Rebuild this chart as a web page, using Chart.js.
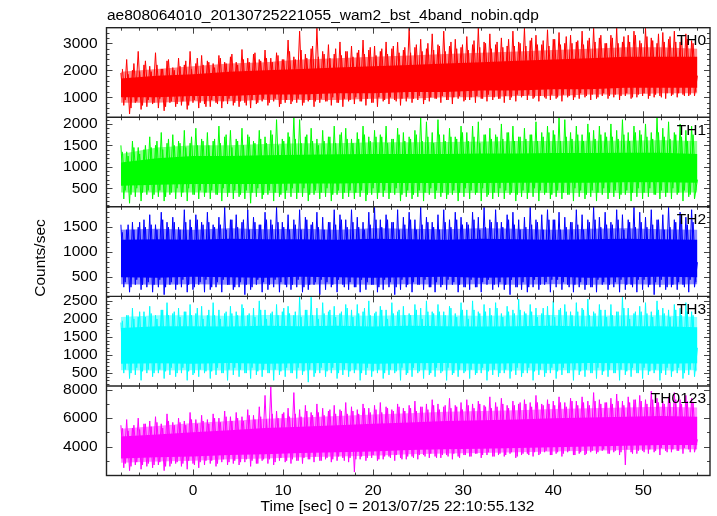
<!DOCTYPE html>
<html>
<head>
<meta charset="utf-8">
<script src="https://cdn.jsdelivr.net/npm/chart.js@4.4.1/dist/chart.umd.min.js"></script>
<style>
  html, body { margin: 0; padding: 0; background: #fff; }
  #wrap { width: 717px; height: 516px; }
</style>
</head>
<body>
<div id="wrap"><canvas id="lcChart" width="717" height="516"></canvas></div>
<script>
// light curve, 5 energy bands; dense noise read as a solid core, a dense fringe and
// two interleaved runs of alternating peak / trough values for the spikes
const zigStart = -8, zigStep = 0.32;      // big spikes
const zig2Start = -7.84, zig2Step = 0.32; // smaller spikes in between
const bandStart = -8, bandStep = 4;       // core and fringe

const xTickLabels = [0, 10, 20, 30, 40, 50];

// TH0 (red)
const th0Ticks = [1000, 2000, 3000];
const th0CoreHi = [1700, 1800, 1850, 1950, 2000, 2050, 2100, 2150, 2200, 2250, 2300, 2350, 2400, 2450, 2500, 2500, 2500];
const th0CoreLo = [1000, 1000, 1050, 1050, 1100, 1100, 1150, 1150, 1200, 1200, 1250, 1250, 1300, 1300, 1350, 1350, 1350];
const th0FringeHi = [1950, 2050, 2150, 2250, 2300, 2400, 2450, 2500, 2550, 2600, 2650, 2700, 2750, 2800, 2850, 2850, 2800];
const th0FringeLo = [800, 800, 850, 850, 900, 900, 900, 950, 950, 1000, 1000, 1050, 1050, 1100, 1100, 1150, 1150];
const th0Zig = [
  1900, 700, 2400, 380, 2000, 800, 2700, 550, 2200, 650,
  2150, 750, 2650, 600, 2050, 500, 2350, 800, 2100, 650,
  2450, 700, 2200, 550, 2700, 800, 2250, 600, 2550, 750,
  2350, 650, 2250, 800, 2550, 600, 2300, 750, 2500, 700,
  2300, 650, 2770, 800, 2450, 600, 2600, 750, 2400, 850,
  2750, 700, 2450, 850, 2650, 650, 2400, 800, 3120, 750,
  2500, 800, 3450, 700, 2600, 850, 2800, 650, 3560, 800,
  2700, 850, 2950, 700, 2600, 800, 3050, 650, 2700, 850,
  2900, 750, 2650, 850, 3120, 700, 2750, 800, 2900, 650,
  2700, 850, 3050, 750, 2800, 900, 3040, 700, 2750, 850,
  3560, 800, 2850, 900, 3150, 750, 2800, 850, 3350, 950,
  2950, 800, 3450, 900, 2900, 750, 3150, 950, 2850, 850,
  3250, 900, 2950, 800, 3560, 950, 3050, 850, 3350, 900,
  2950, 950, 3200, 800, 2900, 900, 3450, 850, 3050, 1000,
  3560, 900, 3100, 950, 3300, 850, 2950, 1000, 3500, 900,
  3150, 950, 3400, 850, 3000, 1000, 3300, 900, 3050, 950,
  3450, 1000, 3100, 900, 3560, 950, 3200, 1050, 3000, 950,
  3300, 1000, 3560, 900, 3050, 1050, 3300, 950, 3450, 1000,
  3100, 1050, 3560, 950, 3200, 1000, 3000, 1050, 3400, 950,
  3150, 1050, 3450, 1000, 3050, 1100, 3350, 1050, 3100, 1050,
  1800
];
const th0Zig2 = [
  2050, 900, 1850, 600, 2250, 850, 1950, 700, 2350, 900,
  1950, 800, 2200, 950, 2050, 650, 2400, 850, 2000, 750,
  2150, 850, 2350, 700, 2050, 900, 2450, 800, 2200, 650,
  2300, 900, 2100, 750, 2450, 850, 2250, 950, 2600, 800,
  2200, 850, 2400, 700, 2300, 900, 2650, 800, 2350, 950,
  2450, 800, 2300, 950, 2550, 750, 2400, 900, 2700, 850,
  2400, 950, 2750, 800, 2450, 900, 2900, 850, 2500, 950,
  2600, 850, 2450, 1000, 2800, 800, 2550, 950, 2700, 900,
  2500, 1000, 2750, 850, 2600, 950, 2850, 800, 2550, 1000,
  2800, 900, 2600, 1000, 2900, 850, 2650, 950, 2850, 1000,
  2650, 950, 2950, 1050, 2700, 900, 3000, 1000, 2750, 950,
  2900, 1050, 2700, 900, 3050, 1000, 2800, 1050, 2950, 900,
  2750, 1000, 3100, 1050, 2850, 950, 3000, 1100, 2800, 1000,
  3050, 950, 2850, 1050, 3150, 1000, 2900, 1100, 3000, 1050,
  2900, 1100, 3200, 1000, 2950, 1050, 3100, 950, 2900, 1100,
  3150, 1000, 2950, 1100, 3250, 1050, 3000, 1000, 3100, 1150,
  2950, 1050, 3200, 1100, 3050, 1000, 3300, 1150, 3000, 1050,
  3200, 1100, 3000, 1050, 3250, 1150, 3050, 1000, 3300, 1100,
  3000, 1150, 3250, 1050, 3100, 1100, 3350, 1000, 3050, 1150,
  3250, 1100, 3050, 1150, 3300, 1050, 3150, 1100, 3000, 1200
];

// TH1 (green)
const th1Ticks = [500, 1000, 1500, 2000];
const th1CoreHi = [1100, 1200, 1250, 1250, 1270, 1280, 1290, 1300, 1300, 1300, 1310, 1310, 1320, 1320, 1330, 1330, 1300];
const th1CoreLo = [560, 580, 600, 600, 600, 610, 610, 620, 620, 620, 620, 630, 630, 630, 640, 640, 630];
const th1FringeHi = [1300, 1450, 1500, 1500, 1530, 1550, 1550, 1570, 1570, 1580, 1590, 1600, 1600, 1610, 1610, 1620, 1600];
const th1FringeLo = [400, 400, 400, 390, 390, 390, 390, 390, 390, 390, 390, 390, 390, 390, 390, 390, 400];
const th1Zig = [
  1500, 250, 1350, 150, 1600, 300, 1450, 200, 1400, 350,
  1700, 250, 1500, 300, 1800, 200, 1550, 350, 1750, 250,
  1600, 300, 1850, 200, 1550, 350, 1900, 250, 1650, 300,
  1800, 250, 1600, 350, 1950, 200, 1700, 300, 1850, 250,
  1650, 300, 1900, 250, 1750, 150, 1600, 300, 1850, 250,
  1700, 350, 1850, 200, 2100, 300, 1650, 250, 1800, 300,
  2150, 250, 2100, 300, 1700, 200, 1900, 350, 1650, 250,
  1850, 300, 1700, 200, 1950, 350, 1750, 250, 1900, 300,
  1650, 250, 1800, 300, 1950, 200, 1700, 350, 1850, 250,
  1750, 300, 1950, 250, 1650, 350, 1900, 200, 1800, 300,
  1700, 250, 1850, 300, 2150, 200, 2050, 350, 1800, 250,
  2100, 300, 1750, 250, 1900, 350, 1700, 200, 1950, 300,
  1800, 250, 1950, 350, 2050, 200, 1750, 300, 1900, 250,
  1750, 300, 2000, 250, 1800, 350, 1950, 200, 1700, 300,
  1900, 250, 1750, 300, 2050, 200, 1800, 350, 1950, 250,
  1850, 300, 2150, 250, 2100, 350, 1800, 200, 1950, 300,
  1750, 250, 2000, 300, 1850, 200, 1950, 350, 1800, 250,
  2000, 300, 1850, 250, 2100, 350, 1800, 200, 1950, 300,
  1850, 250, 2000, 300, 1800, 350, 2150, 250, 1900, 300,
  2050, 250, 1800, 350, 2000, 200, 1850, 300, 1950, 250,
  700
];
const th1Zig2 = [
  1350, 450, 1250, 350, 1450, 500, 1300, 400, 1500, 450,
  1450, 350, 1600, 450, 1400, 300, 1650, 400, 1500, 500,
  1550, 400, 1450, 500, 1700, 350, 1500, 450, 1600, 400,
  1500, 450, 1650, 350, 1550, 500, 1750, 400, 1450, 450,
  1600, 350, 1500, 450, 1700, 400, 1550, 500, 1650, 350,
  1550, 450, 1750, 400, 1500, 350, 1600, 450, 1700, 500,
  1650, 400, 1550, 500, 1750, 350, 1600, 450, 1500, 400,
  1600, 500, 1700, 350, 1550, 450, 1800, 400, 1650, 450,
  1550, 400, 1650, 450, 1750, 350, 1600, 500, 1700, 400,
  1700, 450, 1550, 400, 1650, 500, 1750, 350, 1600, 450,
  1650, 350, 1750, 450, 1600, 400, 1700, 500, 1550, 450,
  1750, 400, 1600, 350, 1700, 450, 1650, 400, 1800, 500,
  1600, 450, 1700, 400, 1550, 500, 1750, 350, 1650, 400,
  1700, 500, 1650, 450, 1800, 400, 1600, 350, 1700, 450,
  1650, 400, 1750, 500, 1600, 450, 1700, 400, 1800, 350,
  1750, 450, 1600, 400, 1700, 350, 1650, 500, 1750, 450,
  1600, 350, 1800, 450, 1650, 400, 1750, 500, 1700, 400,
  1700, 450, 1650, 350, 1750, 450, 1600, 400, 1800, 500,
  1750, 400, 1700, 500, 1650, 350, 1800, 450, 1700, 400,
  1650, 500, 1750, 400, 1700, 450, 1600, 350, 1750, 450
];

// TH2 (blue)
const th2Ticks = [500, 1000, 1500];
const th2CoreHi = [1250, 1260, 1250, 1270, 1260, 1260, 1250, 1270, 1260, 1250, 1270, 1260, 1250, 1260, 1270, 1260, 1250];
const th2CoreLo = [500, 490, 510, 500, 490, 510, 500, 490, 500, 510, 490, 500, 510, 490, 500, 510, 500];
const th2FringeHi = [1450, 1470, 1450, 1480, 1460, 1470, 1450, 1480, 1470, 1460, 1480, 1470, 1450, 1470, 1480, 1460, 1450];
const th2FringeLo = [360, 350, 360, 350, 360, 350, 360, 350, 360, 350, 360, 350, 360, 350, 360, 350, 360];
const th2Zig = [
  1550, 300, 1450, 200, 1600, 350, 1500, 250, 1650, 300,
  1750, 200, 1550, 300, 1800, 150, 1600, 350, 1700, 250,
  1500, 300, 1850, 200, 1650, 250, 1750, 350, 1600, 200,
  1800, 250, 1550, 300, 1700, 200, 1900, 350, 1650, 250,
  1750, 300, 1600, 150, 1850, 250, 1700, 350, 1550, 200,
  1800, 250, 1650, 300, 1900, 200, 1600, 350, 1750, 250,
  1650, 300, 1850, 200, 1700, 250, 1550, 350, 1800, 150,
  1700, 250, 1600, 300, 1850, 200, 1750, 350, 1650, 250,
  1850, 300, 1700, 200, 1600, 250, 1800, 350, 1900, 200,
  1650, 250, 1750, 300, 1600, 150, 1850, 250, 1700, 300,
  1800, 200, 1650, 350, 1900, 250, 1700, 300, 1600, 200,
  1750, 300, 1850, 250, 1650, 350, 1800, 200, 1700, 300,
  1600, 250, 1800, 300, 1700, 200, 1900, 350, 1650, 250,
  1850, 300, 1600, 250, 1750, 150, 1800, 300, 1650, 250,
  1700, 200, 1900, 300, 1650, 250, 1750, 350, 1850, 200,
  1650, 300, 1800, 250, 1700, 350, 1600, 200, 1850, 300,
  1750, 250, 1650, 300, 1900, 200, 1700, 350, 1800, 250,
  1600, 300, 1850, 200, 1750, 250, 1650, 350, 1900, 200,
  1800, 250, 1700, 300, 1850, 150, 1650, 300, 1750, 250,
  1900, 300, 1650, 250, 1800, 350, 1700, 200, 1850, 300,
  800
];
const th2Zig2 = [
  1400, 400, 1550, 300, 1450, 450, 1600, 350, 1500, 400,
  1550, 350, 1450, 450, 1650, 300, 1500, 400, 1600, 350,
  1450, 450, 1600, 350, 1500, 300, 1650, 400, 1550, 450,
  1600, 300, 1500, 400, 1550, 450, 1450, 350, 1650, 300,
  1500, 400, 1650, 350, 1450, 300, 1600, 450, 1550, 400,
  1650, 350, 1550, 450, 1600, 400, 1500, 300, 1450, 350,
  1550, 450, 1450, 300, 1650, 350, 1600, 400, 1500, 450,
  1450, 400, 1600, 350, 1550, 450, 1650, 300, 1500, 400,
  1600, 300, 1500, 450, 1450, 400, 1550, 350, 1650, 300,
  1500, 450, 1650, 400, 1600, 300, 1450, 450, 1550, 350,
  1650, 400, 1450, 350, 1550, 450, 1600, 300, 1500, 400,
  1450, 350, 1600, 450, 1500, 400, 1650, 350, 1550, 300,
  1550, 450, 1650, 300, 1450, 400, 1500, 450, 1600, 350,
  1600, 400, 1500, 350, 1650, 450, 1550, 300, 1450, 400,
  1500, 300, 1550, 450, 1600, 350, 1450, 400, 1650, 450,
  1650, 450, 1450, 400, 1500, 300, 1600, 350, 1550, 400,
  1450, 350, 1600, 300, 1650, 450, 1500, 400, 1550, 350,
  1550, 400, 1650, 450, 1450, 350, 1600, 300, 1500, 450,
  1600, 450, 1500, 350, 1550, 400, 1650, 450, 1450, 300,
  1500, 350, 1600, 400, 1650, 300, 1550, 450, 1600, 400
];

// TH3 (cyan)
const th3Ticks = [500, 1000, 1500, 2000, 2500];
const th3CoreHi = [1750, 1800, 1800, 1790, 1810, 1800, 1810, 1790, 1810, 1800, 1790, 1800, 1810, 1790, 1800, 1800, 1770];
const th3CoreLo = [760, 770, 760, 780, 760, 770, 780, 760, 770, 780, 760, 770, 760, 780, 770, 760, 770];
const th3FringeHi = [2050, 2100, 2100, 2090, 2110, 2100, 2110, 2090, 2110, 2100, 2090, 2100, 2110, 2090, 2100, 2100, 2050];
const th3FringeLo = [580, 570, 580, 570, 580, 570, 580, 570, 580, 570, 580, 570, 580, 570, 580, 570, 580];
const th3Zig = [
  1900, 500, 2100, 350, 2300, 450, 2050, 300, 2200, 500,
  2350, 400, 2100, 500, 2250, 350, 2450, 450, 2150, 400,
  2300, 500, 2200, 300, 2400, 450, 2150, 400, 2350, 500,
  2100, 350, 2450, 450, 2250, 500, 2150, 300, 2350, 450,
  2200, 400, 2400, 500, 2100, 350, 2300, 450, 2500, 400,
  2250, 500, 2150, 300, 2400, 450, 2200, 400, 2350, 500,
  2100, 350, 2600, 450, 2250, 250, 2600, 400, 2300, 500,
  2450, 400, 2200, 500, 2350, 350, 2150, 450, 2400, 400,
  2250, 500, 2400, 300, 2200, 450, 2500, 400, 2150, 500,
  2350, 350, 2250, 450, 2450, 500, 2200, 300, 2350, 450,
  2150, 400, 2400, 500, 2300, 350, 2500, 450, 2200, 400,
  2400, 500, 2200, 300, 2350, 450, 2150, 400, 2450, 500,
  2250, 350, 2500, 450, 2200, 500, 2400, 300, 2300, 450,
  2450, 400, 2150, 500, 2350, 350, 2250, 450, 2550, 400,
  2200, 500, 2400, 300, 2300, 450, 2150, 400, 2350, 500,
  2500, 350, 2250, 450, 2400, 500, 2200, 300, 2450, 450,
  2300, 400, 2550, 500, 2200, 350, 2400, 450, 2250, 400,
  2400, 500, 2200, 300, 2600, 450, 2300, 400, 2150, 500,
  2350, 350, 2450, 450, 2200, 500, 2500, 300, 2300, 450,
  2250, 400, 2400, 500, 2300, 350, 2450, 450, 2200, 400,
  1200
];
const th3Zig2 = [
  1950, 600, 2100, 500, 2000, 650, 2200, 550, 2050, 600,
  2150, 500, 2000, 600, 2250, 550, 2100, 650, 2200, 500,
  2050, 650, 2200, 550, 2100, 500, 2300, 600, 2000, 550,
  2250, 550, 2100, 650, 2000, 500, 2200, 600, 2150, 650,
  2100, 600, 2300, 500, 2150, 650, 2050, 550, 2250, 600,
  2000, 500, 2200, 600, 2100, 550, 2300, 650, 2150, 500,
  2200, 650, 2050, 550, 2250, 600, 2100, 500, 2000, 650,
  2150, 550, 2250, 650, 2050, 500, 2200, 600, 2300, 550,
  2050, 600, 2150, 500, 2300, 650, 2100, 550, 2200, 600,
  2250, 500, 2000, 600, 2150, 550, 2250, 650, 2100, 500,
  2100, 650, 2250, 550, 2000, 600, 2200, 500, 2150, 650,
  2200, 550, 2100, 650, 2300, 500, 2050, 600, 2250, 550,
  2000, 600, 2250, 500, 2150, 650, 2200, 550, 2100, 600,
  2300, 500, 2050, 600, 2200, 550, 2150, 650, 2250, 500,
  2150, 650, 2200, 550, 2050, 600, 2300, 500, 2100, 650,
  2050, 550, 2300, 650, 2200, 500, 2100, 600, 2200, 550,
  2250, 600, 2100, 500, 2150, 650, 2250, 550, 2050, 600,
  2100, 500, 2200, 600, 2300, 550, 2000, 650, 2200, 500,
  2200, 650, 2150, 550, 2050, 600, 2250, 500, 2150, 650,
  2050, 550, 2250, 650, 2100, 500, 2200, 600, 2100, 550
];

// TH0123 (magenta)
const th0123Ticks = [4000, 6000, 8000];
const th0123CoreHi = [4700, 4850, 5000, 5150, 5300, 5400, 5500, 5600, 5700, 5800, 5850, 5900, 6000, 6050, 6100, 6150, 6100];
const th0123CoreLo = [3150, 3250, 3300, 3400, 3450, 3550, 3600, 3650, 3750, 3800, 3850, 3900, 3950, 4000, 4050, 4100, 4100];
const th0123FringeHi = [5250, 5450, 5650, 5800, 5950, 6050, 6150, 6250, 6350, 6450, 6500, 6550, 6650, 6700, 6750, 6800, 6750];
const th0123FringeLo = [2850, 2950, 3000, 3100, 3150, 3250, 3300, 3350, 3450, 3500, 3550, 3600, 3650, 3700, 3750, 3800, 3800];
const th0123Zig = [
  5500, 2500, 5900, 2300, 5300, 2700, 6000, 2400, 5600, 2600,
  5800, 2500, 6100, 2700, 5600, 2300, 6300, 2600, 5700, 2800,
  6000, 2600, 5800, 2400, 6400, 2800, 5900, 2500, 6200, 2700,
  5900, 2800, 6300, 2600, 6000, 2900, 6500, 2700, 6100, 2800,
  6400, 2700, 6100, 2900, 6600, 2600, 6200, 2800, 6800, 3000,
  7600, 2800, 8200, 2700, 6500, 3000, 6300, 2900, 6700, 2800,
  7800, 3000, 6600, 2800, 6900, 3100, 6400, 2900, 7000, 3000,
  6700, 3100, 6500, 2900, 6900, 3000, 6600, 3200, 7100, 2900,
  6800, 2200, 6600, 3100, 7000, 3000, 6700, 3200, 6900, 3000,
  7100, 3100, 6800, 3300, 6600, 3000, 7000, 3200, 6700, 3100,
  6900, 3300, 7200, 3100, 6800, 3400, 7000, 3200, 7300, 3300,
  7000, 3200, 6800, 3400, 7400, 3100, 6900, 3300, 7100, 3400,
  7300, 3300, 7000, 3500, 7200, 3200, 6900, 3400, 7500, 3300,
  7100, 3400, 7400, 3300, 6900, 3500, 7200, 3200, 7000, 3400,
  7300, 3500, 7100, 3300, 7600, 3400, 7000, 3600, 7300, 3400,
  7200, 3500, 7500, 3300, 7100, 3600, 7400, 3400, 7200, 3500,
  7500, 3400, 7200, 3600, 7800, 3500, 7300, 3700, 7100, 3500,
  7400, 3600, 7700, 3400, 7200, 2700, 7500, 3600, 7300, 3500,
  7600, 3700, 7300, 3500, 7900, 3600, 7400, 3400, 7200, 3700,
  7500, 3600, 7800, 3700, 7300, 3500, 7600, 3800, 7400, 3600,
  4500
];
const th0123Zig2 = [
  5300, 2800, 5100, 2600, 5500, 2900, 5200, 2700, 5600, 2800,
  5400, 2700, 5700, 2900, 5300, 2600, 5800, 2800, 5500, 2900,
  5700, 2800, 5500, 3000, 5900, 2700, 5600, 2900, 5800, 3000,
  5600, 3000, 6000, 2800, 5700, 3100, 6100, 2900, 5800, 3000,
  6000, 2900, 5800, 3100, 6200, 3000, 5900, 2800, 6100, 3100,
  5900, 3100, 6300, 2900, 6000, 3200, 6400, 3000, 6100, 3100,
  6300, 3000, 6100, 3200, 6500, 3100, 6200, 3300, 6400, 3000,
  6200, 3200, 6600, 3100, 6300, 3300, 6500, 3000, 6300, 3200,
  6500, 3100, 6300, 3300, 6700, 3200, 6400, 3400, 6600, 3100,
  6400, 3300, 6700, 3200, 6500, 3400, 6800, 3100, 6500, 3300,
  6700, 3200, 6500, 3400, 6800, 3300, 6600, 3500, 6900, 3200,
  6600, 3400, 6900, 3300, 6700, 3500, 6800, 3200, 6600, 3400,
  6900, 3300, 6700, 3500, 7000, 3400, 6800, 3600, 6700, 3300,
  6800, 3500, 7000, 3400, 6700, 3600, 6900, 3300, 7100, 3500,
  7000, 3400, 6800, 3600, 7100, 3500, 6900, 3700, 7000, 3400,
  6900, 3600, 7100, 3500, 6800, 3700, 7200, 3400, 6900, 3600,
  7100, 3500, 6900, 3700, 7200, 3600, 7000, 3800, 7100, 3500,
  7000, 3700, 7200, 3600, 6900, 3800, 7100, 3500, 7300, 3700,
  7200, 3600, 7000, 3800, 7300, 3700, 7100, 3900, 7000, 3600,
  7100, 3800, 7300, 3700, 7000, 3900, 7200, 3600, 7100, 3800
];

const panels = [
  { id: 'y0', name: 'TH0', rgb: '255,0,0', zig: th0Zig, zig2: th0Zig2, hi: th0CoreHi, lo: th0CoreLo,
    fhi: th0FringeHi, flo: th0FringeLo, ticks: th0Ticks, min: 260, max: 3578, major: 1000, minor: 200 },
  { id: 'y1', name: 'TH1', rgb: '0,255,0', zig: th1Zig, zig2: th1Zig2, hi: th1CoreHi, lo: th1CoreLo,
    fhi: th1FringeHi, flo: th1FringeLo, ticks: th1Ticks, min: 66, max: 2156, major: 500, minor: 100 },
  { id: 'y2', name: 'TH2', rgb: '0,0,255', zig: th2Zig, zig2: th2Zig2, hi: th2CoreHi, lo: th2CoreLo,
    fhi: th2FringeHi, flo: th2FringeLo, ticks: th2Ticks, min: 116, max: 1908, major: 500, minor: 100 },
  { id: 'y3', name: 'TH3', rgb: '0,255,255', zig: th3Zig, zig2: th3Zig2, hi: th3CoreHi, lo: th3CoreLo,
    fhi: th3FringeHi, flo: th3FringeLo, ticks: th3Ticks, min: 145, max: 2624, major: 500, minor: 100 },
  { id: 'y4', name: 'TH0123', rgb: '255,0,255', zig: th0123Zig, zig2: th0123Zig2, hi: th0123CoreHi, lo: th0123CoreLo,
    fhi: th0123FringeHi, flo: th0123FringeLo, ticks: th0123Ticks, min: 1958, max: 8268, major: 2000, minor: 1000 }
];

const FONT_FAMILY = '"Liberation Sans", Arial, Helvetica, sans-serif';
const FONT_SIZE = 15.5;

function toPoints(values, start, step) {
  return values.map((v, i) => ({ x: start + i * step, y: v }));
}

const datasets = [];
panels.forEach(p => {
  const solid = 'rgb(' + p.rgb + ')';
  datasets.push({ data: toPoints(p.fhi, bandStart, bandStep), yAxisID: p.id, fill: '+1', order: 2,
    backgroundColor: 'rgba(' + p.rgb + ',0.45)', borderWidth: 0, pointRadius: 0 });
  datasets.push({ data: toPoints(p.flo, bandStart, bandStep), yAxisID: p.id, fill: false, order: 2,
    borderWidth: 0, pointRadius: 0 });
  datasets.push({ data: toPoints(p.hi, bandStart, bandStep), yAxisID: p.id, fill: '+1', order: 1,
    backgroundColor: solid, borderWidth: 0, pointRadius: 0 });
  datasets.push({ data: toPoints(p.lo, bandStart, bandStep), yAxisID: p.id, fill: false, order: 1,
    borderWidth: 0, pointRadius: 0 });
  datasets.push({ data: toPoints(p.zig2, zig2Start, zig2Step), yAxisID: p.id, fill: false, order: 0,
    borderColor: solid, borderWidth: 1, pointRadius: 0 });
  datasets.push({ data: toPoints(p.zig, zigStart, zigStep), yAxisID: p.id, fill: false, order: 0,
    borderColor: solid, borderWidth: 1, pointRadius: 0 });
});

const scales = {
  x: {
    type: 'linear', position: 'bottom', min: -9.6, max: 57.4,
    grid: { display: false, drawTicks: false }, border: { display: false },
    afterBuildTicks: a => { a.ticks = xTickLabels.map(v => ({ value: v })); },
    afterFit: a => { a.height = 40.5; },
    ticks: { color: '#000', padding: 6, maxRotation: 0, autoSkip: false,
      font: { family: FONT_FAMILY, size: FONT_SIZE }, callback: v => String(v) }
  }
};
// stacked axes are laid out from the bottom up, so add the lowest panel first
panels.slice().reverse().forEach(p => {
  scales[p.id] = {
    type: 'linear', position: 'left', stack: 'lc', stackWeight: 1,
    min: p.min, max: p.max,
    grid: { display: false, drawTicks: false }, border: { display: false },
    afterBuildTicks: a => { a.ticks = p.ticks.map(v => ({ value: v })); },
    afterFit: a => { a.width = 106.5; },
    ticks: { color: '#000', padding: 9, autoSkip: false,
      font: { family: FONT_FAMILY, size: FONT_SIZE }, callback: v => String(v) }
  };
});

// frames, inward tick marks and the text labels, the way qdp draws them
const qdpFrame = {
  id: 'qdpFrame',
  afterDatasetsDraw(chart) {
    const ctx = chart.ctx;
    const xs = chart.scales.x;
    const area = chart.chartArea;
    const seg = (x1, y1, x2, y2) => { ctx.beginPath(); ctx.moveTo(x1, y1); ctx.lineTo(x2, y2); ctx.stroke(); };
    ctx.save();
    ctx.strokeStyle = '#444';
    ctx.lineWidth = 1;
    panels.forEach(p => {
      const ys = chart.scales[p.id];
      for (let v = Math.ceil(xs.min / 2) * 2; v <= xs.max; v += 2) {
        const px = Math.round(xs.getPixelForValue(v)) + 0.5;
        const len = v % 10 === 0 ? 6 : 3;
        seg(px, ys.top, px, ys.top + len);
        seg(px, ys.bottom, px, ys.bottom - len);
      }
      for (let v = Math.ceil(p.min / p.minor) * p.minor; v <= p.max; v += p.minor) {
        const py = Math.round(ys.getPixelForValue(v)) + 0.5;
        const len = v % p.major === 0 ? 6 : 3;
        seg(area.left, py, area.left + len, py);
        seg(area.right, py, area.right - len, py);
      }
    });
    ctx.strokeStyle = '#222';
    ctx.lineWidth = 1.4;
    ctx.strokeRect(area.left, area.top, area.right - area.left, area.bottom - area.top);
    panels.slice(0, -1).forEach(p => {
      const ys = chart.scales[p.id];
      seg(area.left, ys.bottom, area.right, ys.bottom);
    });

    ctx.fillStyle = '#000';
    ctx.font = FONT_SIZE + 'px ' + FONT_FAMILY;
    ctx.textBaseline = 'alphabetic';
    ctx.textAlign = 'right';
    panels.forEach(p => {
      ctx.fillText(p.name, 706, chart.scales[p.id].top + 17.5);
    });
    ctx.textAlign = 'left';
    ctx.fillText('ae808064010_20130725221055_wam2_bst_4band_nobin.qdp', 107, 20);
    ctx.textAlign = 'center';
    ctx.fillText('Time [sec] 0 = 2013/07/25 22:10:55.132', 397.5, 511);
    ctx.translate(41, 258);
    ctx.rotate(-Math.PI / 2);
    ctx.textBaseline = 'middle';
    ctx.fillText('Counts/sec', 0, 0);
    ctx.restore();
  }
};

new Chart(document.getElementById('lcChart'), {
  type: 'line',
  data: { datasets: datasets },
  options: {
    responsive: false,
    animation: false,
    events: [],
    layout: { padding: { top: 27.7, right: 7, left: 0, bottom: 0 } },
    elements: { line: { tension: 0 } },
    scales: scales,
    plugins: { legend: { display: false }, tooltip: { enabled: false }, title: { display: false } }
  },
  plugins: [qdpFrame]
});
</script>
</body>
</html>
